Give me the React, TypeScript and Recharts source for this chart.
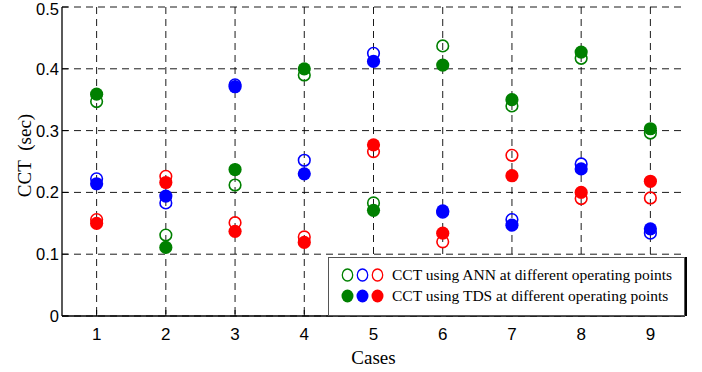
import React from 'react';
import {
  CartesianGrid,
  Legend,
  Scatter,
  ScatterChart,
  XAxis,
  YAxis,
} from 'recharts';

const cases = [1, 2, 3, 4, 5, 6, 7, 8, 9];
const yTicks = [0, 0.1, 0.2, 0.3, 0.4, 0.5];
const yTickLabels = ['0', '0.1', '0.2', '0.3', '0.4', '0.5'];

// CCT using ANN (open markers)
const annGreen = [0.347, 0.131, 0.212, 0.39, 0.183, 0.437, 0.34, 0.417, 0.296];
const annBlue = [0.222, 0.183, 0.374, 0.252, 0.425, 0.168, 0.156, 0.246, 0.134];
const annRed = [0.156, 0.226, 0.151, 0.128, 0.266, 0.12, 0.26, 0.19, 0.191];

// CCT using TDS (filled markers)
const tdsGreen = [0.359, 0.111, 0.237, 0.4, 0.171, 0.406, 0.35, 0.427, 0.303];
const tdsBlue = [0.214, 0.194, 0.371, 0.23, 0.412, 0.17, 0.147, 0.238, 0.141];
const tdsRed = [0.15, 0.216, 0.137, 0.119, 0.277, 0.134, 0.227, 0.2, 0.218];

const legendLabels = [
  'CCT using ANN at different operating points',
  'CCT using TDS at different operating points',
];

const GREEN = '#008000';
const BLUE = '#0000ff';
const RED = '#ff0000';

const toPoints = (vals: number[]) => cases.map((c, i) => ({ x: c, y: vals[i] }));

const series = [
  { key: 'annGreen', data: toPoints(annGreen), color: GREEN, open: true },
  { key: 'annBlue', data: toPoints(annBlue), color: BLUE, open: true },
  { key: 'annRed', data: toPoints(annRed), color: RED, open: true },
  { key: 'tdsGreen', data: toPoints(tdsGreen), color: GREEN, open: false },
  { key: 'tdsBlue', data: toPoints(tdsBlue), color: BLUE, open: false },
  { key: 'tdsRed', data: toPoints(tdsRed), color: RED, open: false },
];

const sansFont = '"Liberation Sans", Arial, sans-serif';
const serifFont = '"Liberation Serif", "Times New Roman", serif';

const marker = (color: string, open: boolean) => (props: any) => {
  const { cx, cy } = props;
  if (cx == null || cy == null) return <g />;
  return open ? (
    <circle cx={cx} cy={cy} r={5.8} fill="none" stroke={color} strokeWidth={1.6} />
  ) : (
    <circle cx={cx} cy={cy} r={6.6} fill={color} stroke="none" />
  );
};

const BottomTick = (props: any) => {
  const { x, y, payload } = props;
  return (
    <g>
      <line x1={x} y1={y} x2={x} y2={y - 6} stroke="#000" />
      <text
        x={x}
        y={y + 23.5}
        textAnchor="middle"
        fontFamily={sansFont}
        fontSize={17}
        fill="#000"
      >
        {payload.value}
      </text>
    </g>
  );
};

const LeftTick = (props: any) => {
  const { x, y, payload } = props;
  const idx = yTicks.indexOf(payload.value);
  // keep the top label inside the picture
  const baseline = Math.max(y + 6, 15);
  return (
    <g>
      <line x1={x} y1={y} x2={x + 6} y2={y} stroke="#000" />
      <text
        x={x - 3}
        y={baseline}
        textAnchor="end"
        fontFamily={sansFont}
        fontSize={16.5}
        fill="#000"
      >
        {yTickLabels[idx]}
      </text>
    </g>
  );
};

const TopTick = (props: any) => {
  const { x, y } = props;
  return <line x1={x} y1={y} x2={x} y2={y + 6} stroke="#000" />;
};

const RightTick = (props: any) => {
  const { x, y } = props;
  return <line x1={x} y1={y} x2={x - 6} y2={y} stroke="#000" />;
};

const Dot: React.FC<{ color: string; open: boolean }> = ({ color, open }) => (
  <svg width={13} height={14} style={{ marginRight: 2, display: 'block' }}>
    {open ? (
      <ellipse cx={6.5} cy={7} rx={5.2} ry={6} fill="none" stroke={color} strokeWidth={1.3} />
    ) : (
      <ellipse cx={6.5} cy={7} rx={6} ry={6.5} fill={color} />
    )}
  </svg>
);

const CustomLegend: React.FC = () => (
  <div
    style={{
      width: '100%',
      height: '100%',
      boxSizing: 'border-box',
      background: '#fff',
      border: '1px solid #555',
      boxShadow: '2px 0 0 #000',
      paddingTop: 6,
      paddingLeft: 12,
      fontFamily: serifFont,
      fontSize: 15.5,
      color: '#000',
    }}
  >
    {legendLabels.map((label, row) => (
      <div
        key={`row-${row}`}
        style={{ display: 'flex', alignItems: 'center', height: 21 }}
      >
        <Dot color={GREEN} open={row === 0} />
        <Dot color={BLUE} open={row === 0} />
        <Dot color={RED} open={row === 0} />
        <span style={{ marginLeft: 6, whiteSpace: 'nowrap' }}>{label}</span>
      </div>
    ))}
  </div>
);

const App: React.FC = () => {
  return (
    <div style={{ position: 'absolute', left: 0, top: 0, width: 702, height: 372, background: '#fff' }}>
      <ScatterChart
        width={702}
        height={372}
        margin={{ top: 7, right: 17, bottom: 0, left: 0 }}
      >
        <CartesianGrid
          stroke="#000"
          strokeDasharray="7 5"
          strokeWidth={0.9}
          verticalValues={cases}
          horizontalValues={yTicks}
        />
        <XAxis
          type="number"
          dataKey="x"
          domain={[0.5, 9.5]}
          ticks={cases}
          interval={0}
          height={56}
          tickSize={0}
          tickMargin={0}
          tick={<BottomTick />}
          axisLine={{ stroke: '#000', strokeWidth: 1.3 }}
          label={{
            value: 'Cases',
            position: 'insideBottom',
            offset: 8,
            fontFamily: serifFont,
            fontSize: 19,
            fill: '#000',
          }}
        />
        <XAxis
          xAxisId="top"
          orientation="top"
          type="number"
          dataKey="x"
          domain={[0.5, 9.5]}
          ticks={cases}
          interval={0}
          height={0}
          tickSize={0}
          tickMargin={0}
          tick={<TopTick />}
          axisLine={{ stroke: '#000', strokeWidth: 1.3 }}
        />
        <YAxis
          type="number"
          dataKey="y"
          domain={[0, 0.5]}
          ticks={yTicks}
          interval={0}
          width={62}
          tickSize={0}
          tickMargin={0}
          tick={<LeftTick />}
          axisLine={{ stroke: '#000', strokeWidth: 1.3 }}
          label={{
            value: 'CCT\u00a0\u00a0(sec)',
            angle: -90,
            position: 'insideLeft',
            offset: 24,
            dy: -6,
            fontFamily: serifFont,
            fontSize: 19,
            fill: '#000',
            style: { textAnchor: 'middle' },
          }}
        />
        <YAxis
          yAxisId="right"
          orientation="right"
          type="number"
          dataKey="y"
          domain={[0, 0.5]}
          ticks={yTicks}
          interval={0}
          width={0}
          tickSize={0}
          tickMargin={0}
          tick={<RightTick />}
          axisLine={{ stroke: '#000', strokeWidth: 1.3 }}
        />
        {series.map((s) => (
          <Scatter
            key={s.key}
            data={s.data}
            shape={marker(s.color, s.open)}
            isAnimationActive={false}
          />
        ))}
        <Legend
          layout="horizontal"
          verticalAlign="middle"
          align="center"
          content={<CustomLegend />}
          wrapperStyle={{ left: 328, top: 257, width: 357, height: 59 }}
        />
      </ScatterChart>
    </div>
  );
};

export default App;
